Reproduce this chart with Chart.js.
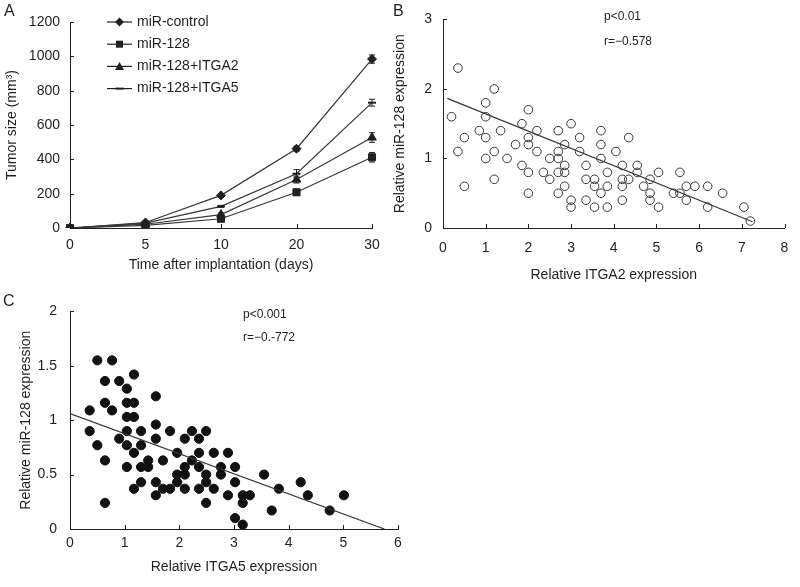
<!DOCTYPE html>
<html>
<head>
<meta charset="utf-8">
<script src="https://cdn.jsdelivr.net/npm/chart.js@4.4.0/dist/chart.umd.min.js"></script>
<style>
	body { margin: 0; background: #fff; }
	#wrap { position: relative; width: 800px; height: 587px; overflow: hidden; background: #fff; }
	canvas { position: absolute; }
	#chartA { left: 0; top: 0; }
	#chartB { left: 385px; top: 0; }
	#chartC { left: 0; top: 290px; }
</style>
</head>
<body>
<div id="wrap">
	<canvas id="chartA" width="400" height="290"></canvas>
	<canvas id="chartB" width="415" height="290"></canvas>
	<canvas id="chartC" width="420" height="297"></canvas>
</div>
<script>
;(function () {
	'use strict';
	const FONT = '"Liberation Sans", Arial, sans-serif';
	const INK = '#231f20';

	// A - tumor growth
	const days = ['0', '5', '10', '20', '30'];
	const seriesNames = ['miR-control', 'miR-128', 'miR-128+ITGA2', 'miR-128+ITGA5'];
	const tumorControl = [0, 32, 190, 462, 984];
	const tumor128 = [0, 15, 54, 208, 412];
	const tumorItga2 = [0, 22, 78, 282, 527];
	const tumorItga5 = [0, 28, 126, 316, 730];
	const errControl = [0, 5, 10, 15, 24];
	const err128 = [0, 4, 8, 10, 28];
	const errItga2 = [0, 4, 10, 20, 28];
	const errItga5 = [0, 4, 6, 24, 20];

	// B - ITGA2 vs miR-128
	const itga2X = [0.2, 0.35, 0.35, 0.5, 0.5, 0.85, 1.0, 1.0, 1.0, 1.0,
		1.2, 1.2, 1.2, 1.35, 1.5, 1.7, 1.85, 1.85, 2.0, 2.0,
		2.0, 2.0, 2.0, 2.2, 2.2, 2.35, 2.5, 2.5, 2.7, 2.7,
		2.7, 2.7, 2.7, 2.85, 2.85, 2.85, 2.85, 3.0, 3.0, 3.0,
		3.2, 3.2, 3.35, 3.35, 3.35, 3.55, 3.55, 3.55, 3.7, 3.7,
		3.7, 3.7, 3.85, 3.85, 3.85, 4.05, 4.2, 4.2, 4.2, 4.2,
		4.35, 4.35, 4.55, 4.55, 4.7, 4.85, 4.85, 4.85, 5.05, 5.05,
		5.4, 5.55, 5.55, 5.7, 5.7, 5.9, 6.2, 6.2, 6.55, 7.05,
		7.2];
	const mir128B = [1.6, 2.3, 1.1, 1.3, 0.6, 1.4, 1.8, 1.6, 1.3, 1.0,
		2.0, 1.1, 0.7, 1.4, 1.0, 1.2, 1.5, 0.9, 1.7, 1.3,
		1.2, 0.8, 0.5, 1.4, 1.1, 0.8, 1.0, 0.7, 1.4, 1.1,
		1.0, 0.8, 0.5, 1.2, 0.9, 0.8, 0.6, 1.5, 0.4, 0.3,
		1.3, 1.1, 0.9, 0.7, 0.4, 0.7, 0.6, 0.3, 1.4, 1.2,
		1.0, 0.5, 0.8, 0.6, 0.3, 1.1, 0.9, 0.7, 0.6, 0.4,
		1.3, 0.7, 0.9, 0.8, 0.6, 0.7, 0.5, 0.4, 0.8, 0.3,
		0.5, 0.8, 0.5, 0.4, 0.6, 0.6, 0.6, 0.3, 0.5, 0.3,
		0.1];
	const fitBX = [0.1, 7.25];
	const fitBY = [1.865, 0.09];

	// C - ITGA5 vs miR-128
	const itga5X = [0.36, 0.36, 0.5, 0.5, 0.64, 0.64, 0.64, 0.64, 0.77, 0.77,
		0.9, 0.9, 1.04, 1.04, 1.04, 1.04, 1.04, 1.04, 1.17, 1.17,
		1.17, 1.17, 1.17, 1.3, 1.3, 1.3, 1.3, 1.43, 1.43, 1.57,
		1.57, 1.57, 1.57, 1.57, 1.7, 1.7, 1.83, 1.83, 1.96, 1.96,
		1.96, 2.1, 2.1, 2.1, 2.1, 2.23, 2.23, 2.36, 2.36, 2.36,
		2.36, 2.49, 2.49, 2.49, 2.49, 2.63, 2.63, 2.76, 2.76, 2.89,
		2.89, 3.02, 3.02, 3.02, 3.16, 3.16, 3.16, 3.29, 3.55, 3.69,
		3.82, 4.22, 4.35, 4.75, 5.01];
	const mir128C = [1.09, 0.9, 1.55, 0.77, 1.36, 1.16, 0.63, 0.24, 1.55, 1.09,
		1.36, 0.83, 1.29, 1.16, 1.03, 0.9, 0.77, 0.57, 1.42, 1.16,
		1.03, 0.7, 0.37, 0.9, 0.77, 0.57, 0.43, 0.63, 0.57, 1.22,
		0.96, 0.83, 0.43, 0.31, 0.63, 0.37, 0.9, 0.37, 0.7, 0.5,
		0.43, 0.83, 0.57, 0.5, 0.37, 0.9, 0.63, 0.83, 0.7, 0.57,
		0.37, 0.9, 0.5, 0.43, 0.24, 0.7, 0.37, 0.57, 0.5, 0.7,
		0.31, 0.57, 0.43, 0.1, 0.31, 0.24, 0.04, 0.31, 0.5, 0.17,
		0.37, 0.43, 0.31, 0.17, 0.31];
	const fitCX = [0, 5.75];
	const fitCY = [1.06, 0];

	const toPoints = (xs, ys) => xs.map((x, i) => ({ x: x, y: ys[i] }));

	Chart.defaults.font.family = FONT;
	Chart.defaults.color = INK;

	// short tick marks pointing into the plot
	const inwardTicks = {
		id: 'inwardTicks',
		afterDraw(chart) {
			const ctx = chart.ctx;
			const area = chart.chartArea;
			const xs = chart.scales.x;
			const ys = chart.scales.y;
			ctx.save();
			ctx.strokeStyle = INK;
			ctx.lineWidth = 1;
			ctx.beginPath();
			xs.ticks.forEach((t, i) => {
				const px = Math.round(xs.getPixelForTick(i)) + 0.5;
				ctx.moveTo(px, area.bottom);
				ctx.lineTo(px, area.bottom - 4);
			});
			ys.ticks.forEach((t, i) => {
				const py = Math.round(ys.getPixelForTick(i)) + 0.5;
				ctx.moveTo(area.left, py);
				ctx.lineTo(area.left + 4, py);
			});
			ctx.stroke();
			ctx.restore();
		}
	};

	// loose text on the canvas (panel letters, p / r values)
	const notes = {
		id: 'notes',
		afterDraw(chart, args, opts) {
			const ctx = chart.ctx;
			ctx.save();
			ctx.fillStyle = INK;
			ctx.textBaseline = 'middle';
			ctx.textAlign = 'left';
			(opts.items || []).forEach(item => {
				ctx.font = item.size + 'px ' + FONT;
				ctx.fillText(item.text, item.x, item.y);
			});
			ctx.restore();
		}
	};

	const drawMarker = function (ctx, style, x, y) {
		ctx.beginPath();
		if (style === 'rectRot') {
			ctx.moveTo(x, y - 4.5);
			ctx.lineTo(x + 4.5, y);
			ctx.lineTo(x, y + 4.5);
			ctx.lineTo(x - 4.5, y);
			ctx.closePath();
			ctx.fill();
		} else if (style === 'rect') {
			ctx.fillRect(x - 3.5, y - 3.5, 7, 7);
		} else if (style === 'triangle') {
			ctx.moveTo(x, y - 4.5);
			ctx.lineTo(x + 4.5, y + 3.5);
			ctx.lineTo(x - 4.5, y + 3.5);
			ctx.closePath();
			ctx.fill();
		} else {
			ctx.lineWidth = 2;
			ctx.moveTo(x - 4, y);
			ctx.lineTo(x + 4, y);
			ctx.stroke();
		}
	};

	const lineLegend = {
		id: 'lineLegend',
		afterDraw(chart) {
			const ctx = chart.ctx;
			ctx.save();
			ctx.font = '14px ' + FONT;
			ctx.textBaseline = 'middle';
			chart.data.datasets.forEach((ds, i) => {
				const y = 22 + i * 22.2;
				ctx.strokeStyle = INK;
				ctx.fillStyle = INK;
				ctx.lineWidth = 1.2;
				ctx.beginPath();
				ctx.moveTo(107, y);
				ctx.lineTo(132, y);
				ctx.stroke();
				drawMarker(ctx, ds.pointStyle, 119.5, y);
				ctx.fillStyle = INK;
				ctx.fillText(ds.label, 137, y);
			});
			ctx.restore();
		}
	};

	const errorBars = {
		id: 'errorBars',
		afterDatasetsDraw(chart) {
			const ctx = chart.ctx;
			const ys = chart.scales.y;
			ctx.save();
			ctx.strokeStyle = INK;
			ctx.lineWidth = 1;
			chart.data.datasets.forEach((ds, di) => {
				const meta = chart.getDatasetMeta(di);
				ds.errors.forEach((e, i) => {
					if (!e) return;
					const px = meta.data[i].x;
					const top = ys.getPixelForValue(ds.data[i] + e);
					const bot = ys.getPixelForValue(ds.data[i] - e);
					ctx.beginPath();
					ctx.moveTo(px, top);
					ctx.lineTo(px, bot);
					ctx.moveTo(px - 3, top);
					ctx.lineTo(px + 3, top);
					ctx.moveTo(px - 3, bot);
					ctx.lineTo(px + 3, bot);
					ctx.stroke();
				});
			});
			ctx.restore();
		}
	};

	const axis = function (size, tickPad, titleText, titlePad, horizontal) {
		return {
			grid: { display: false, drawTicks: false },
			border: { display: true, color: INK, width: 1 },
			ticks: {
				color: INK,
				font: { size: 14 },
				padding: tickPad,
				autoSkip: false,
				callback: function (value, idx) {
					return this.type === 'category' ? this.getLabelForValue(value) : String(value);
				}
			},
			title: { display: true, text: titleText, color: INK, font: { size: 14 }, padding: titlePad },
			afterFit: horizontal ? (s) => { s.height = size; } : (s) => { s.width = size; }
		};
	};

	const makeSeries = function (label, data, errors, style) {
		return {
			label: label,
			data: data,
			errors: errors,
			pointStyle: style,
			pointRadius: style === 'triangle' ? 5 : (style === 'rect' ? 5 : (style === 'line' ? 4 : 4.5)),
			pointBorderWidth: style === 'line' ? 2 : 1,
			borderColor: '#3a3536',
			backgroundColor: INK,
			pointBorderColor: INK,
			borderWidth: 1.2,
			tension: 0
		};
	};

	const handleChartA = function () {
		const xAxis = axis(62, 8.6, 'Time after implantation (days)', { top: 0, bottom: 16.6 }, true);
		const yAxis = axis(70, 10, 'Tumor size (mm\u00b3)', { top: 4, bottom: 0 }, false);
		yAxis.min = 0;
		yAxis.max = 1200;
		yAxis.ticks.stepSize = 200;

		new Chart(document.getElementById('chartA'), {
			type: 'line',
			data: {
				labels: days,
				datasets: [
					makeSeries(seriesNames[0], tumorControl, errControl, 'rectRot'),
					makeSeries(seriesNames[1], tumor128, err128, 'rect'),
					makeSeries(seriesNames[2], tumorItga2, errItga2, 'triangle'),
					makeSeries(seriesNames[3], tumorItga5, errItga5, 'line')
				]
			},
			options: {
				responsive: false,
				animation: false,
				layout: { padding: { left: 0, right: 28, top: 22, bottom: 0 } },
				plugins: {
					legend: { display: false },
					tooltip: { enabled: false },
					notes: { items: [{ text: 'A', x: 4, y: 12, size: 16 }] }
				},
				scales: { x: Object.assign(xAxis, { offset: false }), y: yAxis }
			},
			plugins: [inwardTicks, errorBars, lineLegend, notes]
		});
	};

	const handleScatter = function (id, pts, fit, hollow, cfg) {
		const xAxis = axis(cfg.xHeight, cfg.xTickPad, cfg.xTitle, { top: 0, bottom: cfg.xTitlePad }, true);
		const yAxis = axis(cfg.yWidth, cfg.yTickPad, 'Relative miR-128 expression', { top: cfg.yTitlePad, bottom: 0 }, false);
		xAxis.type = 'linear';
		xAxis.min = 0;
		xAxis.max = cfg.xMax;
		xAxis.ticks.stepSize = 1;
		yAxis.min = 0;
		yAxis.max = cfg.yMax;
		yAxis.ticks.stepSize = cfg.yStep;

		new Chart(document.getElementById(id), {
			type: 'scatter',
			data: {
				datasets: [
					{
						type: 'line',
						data: fit,
						borderColor: '#3a3536',
						borderWidth: 1.2,
						pointRadius: 0,
						fill: false
					},
					{
						data: pts,
						pointRadius: hollow ? 4.3 : 4.6,
						pointBorderWidth: 1,
						pointBorderColor: hollow ? '#3a3536' : '#111',
						pointBackgroundColor: hollow ? 'rgba(255,255,255,0)' : '#111'
					}
				]
			},
			options: {
				responsive: false,
				animation: false,
				layout: { padding: { left: 0, right: cfg.padRight, top: cfg.padTop, bottom: 0 } },
				plugins: {
					legend: { display: false },
					tooltip: { enabled: false },
					notes: { items: cfg.notes }
				},
				scales: { x: xAxis, y: yAxis }
			},
			plugins: [inwardTicks, notes]
		});
	};

	handleChartA();

	handleScatter('chartB', toPoints(itga2X, mir128B), toPoints(fitBX, fitBY), true, {
		xHeight: 62, xTickPad: 11.6, xTitle: 'Relative ITGA2 expression', xTitlePad: 6.6,
		yWidth: 58, yTickPad: 11, yTitlePad: 6.6,
		xMax: 8, yMax: 3, yStep: 1, padRight: 7, padTop: 10,
		notes: [
			{ text: 'B', x: 8, y: 12, size: 16 },
			{ text: 'p<0.01', x: 219, y: 17, size: 12 },
			{ text: 'r=\u22120.578', x: 219, y: 42, size: 12 }
		]
	});

	handleScatter('chartC', toPoints(itga5X, mir128C), toPoints(fitCX, fitCY), false, {
		xHeight: 58, xTickPad: 5.6, xTitle: 'Relative ITGA5 expression', xTitlePad: 11.6,
		yWidth: 70, yTickPad: 13, yTitlePad: 18,
		xMax: 6, yMax: 2, yStep: 0.5, padRight: 22, padTop: 16,
		notes: [
			{ text: 'C', x: 3, y: 12, size: 16 },
			{ text: 'p<0.001', x: 243, y: 25, size: 12 },
			{ text: 'r=\u22120.-772', x: 243, y: 48, size: 12 }
		]
	});
})();
</script>
</body>
</html>
